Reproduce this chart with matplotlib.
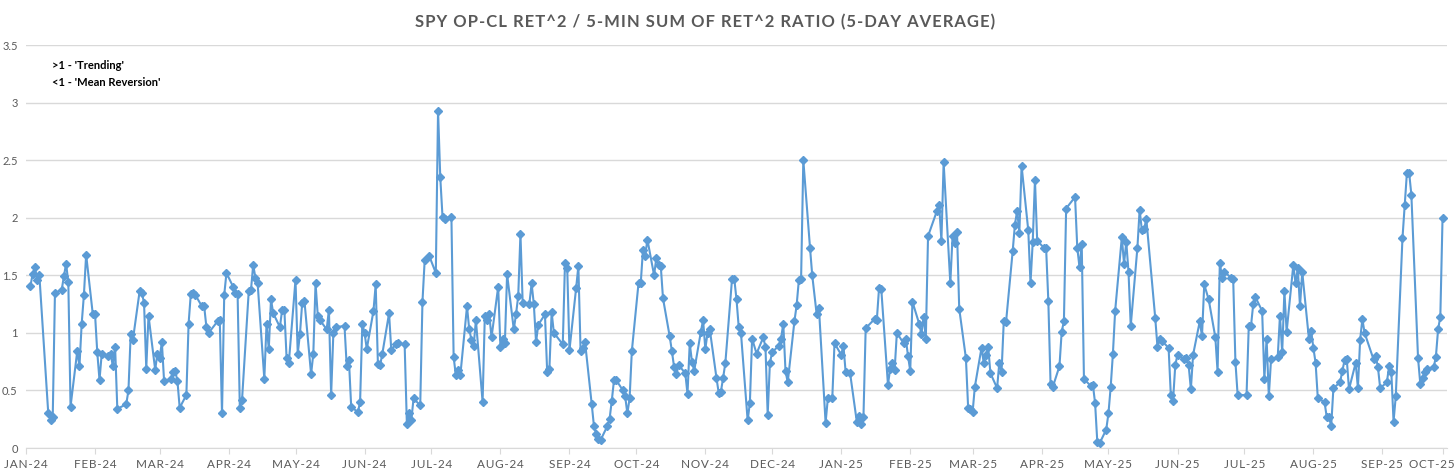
import matplotlib
matplotlib.use("Agg")
import matplotlib.pyplot as plt
import matplotlib.transforms as mtransforms
import pandas as pd

plt.rcParams["font.family"] = ["Lato", "DejaVu Sans"]

title = "SPY OP-CL RET^2 / 5-MIN SUM OF RET^2 RATIO (5-DAY AVERAGE)"
notes = [">1 - 'Trending'", "<1 - 'Mean Reversion'"]

# NYSE closures inside the plotted window
holidays = [
    "2024-01-15", "2024-02-19", "2024-03-29", "2024-05-27", "2024-06-19",
    "2024-07-04", "2024-09-02", "2024-11-28", "2024-12-25", "2025-01-01",
    "2025-01-09", "2025-01-20", "2025-02-17", "2025-04-18", "2025-05-26",
    "2025-06-19", "2025-07-04", "2025-09-01",
]
start_date = "2024-01-08"
end_date = "2025-10-03"

# ratio values, in trading-day order
ratio_jan_feb24 = [1.41, 1.51, 1.57, 1.46, 1.50, 0.30, 0.24, 0.27, 1.35, 1.37, 1.49, 1.60,
                   1.44, 0.36, 0.84, 0.71, 1.08, 1.33, 1.68, 1.16, 1.16, 0.83, 0.59, 0.82,
                   0.80, 0.82, 0.71, 0.88, 0.34, 0.38, 0.50, 0.99, 0.94, 1.36]
ratio_feb_apr24 = [1.35, 1.26, 0.69, 1.15, 0.68, 0.82, 0.78, 0.92, 0.58, 0.60, 0.66, 0.67,
                   0.58, 0.35, 0.46, 1.08, 1.34, 1.35, 1.33, 1.23, 1.23, 1.05, 1.00, 1.10,
                   1.11, 0.30, 1.33, 1.52, 1.40, 1.35, 1.34, 0.35, 0.42, 1.36, 1.37, 1.59,
                   1.48, 1.43, 0.60]
ratio_apr_jun24 = [1.08, 0.86, 1.29, 1.17, 1.05, 1.20, 1.20, 0.78, 0.74, 1.46, 0.82, 0.99,
                   1.26, 1.28, 0.64, 0.82, 1.43, 1.15, 1.11, 1.03, 1.20, 0.46, 1.00, 1.05,
                   1.06, 0.71, 0.76, 0.36, 0.31, 0.40, 1.08, 1.00, 0.86, 1.19, 1.42, 0.73,
                   0.72, 0.82]
ratio_jun_aug24 = [1.17, 0.85, 0.90, 0.91, 0.90, 0.21, 0.30, 0.24, 0.43, 0.37, 1.27, 1.63,
                   1.67, 1.52, 2.93, 2.35, 2.01, 1.99, 2.01, 0.79, 0.63, 0.68, 0.63, 1.23,
                   1.03, 0.94, 0.89, 1.11, 0.40, 1.15, 1.11, 1.16, 0.96, 1.40, 0.88]
ratio_aug_sep24 = [0.95, 0.91, 1.51, 1.03, 1.16, 1.32, 1.86, 1.26, 1.25, 1.43, 1.25, 0.92,
                   1.07, 1.16, 0.66, 0.69, 1.18, 1.00, 0.90, 1.61, 1.56, 0.85, 1.39, 1.58,
                   0.84, 0.87, 0.92, 0.38, 0.19, 0.12, 0.08, 0.07, 0.19, 0.25, 0.41, 0.59,
                   0.59, 0.50]
ratio_sep_nov24 = [0.45, 0.30, 0.43, 0.84, 1.43, 1.43, 1.72, 1.67, 1.81, 1.50, 1.65, 1.59,
                   1.58, 1.30, 0.97, 0.84, 0.70, 0.64, 0.72, 0.65, 0.47, 0.91, 0.75, 0.67,
                   1.01, 1.11, 0.86, 1.00, 1.03, 0.61, 0.48, 0.49, 0.61, 0.74, 1.47, 1.47,
                   1.29, 1.05, 1.00, 0.24]
ratio_nov24_jan25 = [0.39, 0.95, 0.82, 0.96, 0.88, 0.29, 0.74, 0.83, 0.89, 0.95, 1.08, 0.67,
                     0.57, 1.10, 1.24, 1.46, 1.47, 2.50, 1.74, 1.50, 1.16, 1.22, 0.22, 0.43,
                     0.43, 0.91, 0.81, 0.89, 0.66, 0.65, 0.23, 0.28, 0.21]
ratio_jan_mar25 = [0.27, 1.04, 1.12, 1.11, 1.39, 1.38, 0.55, 0.69, 0.74, 0.68, 1.00, 0.91,
                   0.95, 0.80, 0.67, 1.27, 1.08, 0.99, 1.14, 0.95, 1.84, 2.06, 2.11, 1.80,
                   2.48, 1.43, 1.84, 1.78, 1.88, 1.21, 0.78, 0.35, 0.34, 0.31, 0.53, 0.87]
ratio_mar_may25 = [0.74, 0.81, 0.88, 0.65, 0.52, 0.74, 0.66, 1.10, 1.09, 1.71, 1.94, 2.06,
                   1.87, 2.45, 1.89, 1.43, 1.79, 2.33, 1.80, 1.74, 1.74, 1.28, 0.56, 0.53,
                   0.71, 1.01, 1.10, 2.08, 2.18, 1.74, 1.57, 1.77, 0.60, 0.54, 0.55, 0.39,
                   0.05, 0.04]
ratio_may_jun25 = [0.16, 0.30, 0.53, 0.82, 1.19, 1.83, 1.60, 1.79, 1.53, 1.06, 1.74, 2.07,
                   1.89, 1.90, 1.99, 1.13, 0.88, 0.95, 0.93, 0.87, 0.46, 0.41, 0.72, 0.81,
                   0.77, 0.78, 0.72, 0.51, 0.81, 1.10, 0.97, 1.42, 1.29, 0.96, 0.66]
ratio_jun_aug25 = [1.61, 1.48, 1.53, 1.48, 1.47, 0.75, 0.46, 0.46, 1.06, 1.06, 1.25, 1.31,
                   1.19, 0.60, 0.95, 0.45, 0.77, 0.79, 1.15, 0.83, 1.36, 1.01, 1.59, 1.43,
                   1.56, 1.23, 1.53, 0.95, 1.02, 0.87, 0.74, 0.43, 0.40, 0.27, 0.27, 0.19,
                   0.52, 0.57]
ratio_aug_oct25 = [0.67, 0.76, 0.77, 0.51, 0.74, 0.52, 0.94, 1.12, 1.00, 0.77, 0.80, 0.70,
                   0.52, 0.57, 0.71, 0.66, 0.23, 0.45, 1.82, 2.11, 2.39, 2.39, 2.20, 0.78,
                   0.56, 0.61, 0.66, 0.69, 0.70, 0.79, 1.03, 1.14, 2.00]

y_ticks = [0, 0.5, 1, 1.5, 2, 2.5, 3, 3.5]


def spaced(s):
    # Excel-style letter spacing
    return "\u200a".join(s)


def main():
    ratio = (ratio_jan_feb24 + ratio_feb_apr24 + ratio_apr_jun24 + ratio_jun_aug24
             + ratio_aug_sep24 + ratio_sep_nov24 + ratio_nov24_jan25 + ratio_jan_mar25
             + ratio_mar_may25 + ratio_may_jun25 + ratio_jun_aug25 + ratio_aug_oct25)
    dates = pd.bdate_range(start_date, end_date, freq="C", holidays=holidays)
    n = min(len(dates), len(ratio))
    df = pd.DataFrame({"date": dates[:n], "ratio": ratio[:n]})

    grey = "#595959"
    blue = "#5b9bd5"

    fig = plt.figure(figsize=(14.56, 4.73), dpi=100)
    ax = fig.add_axes([26 / 1456, 1 - 448 / 473, 1421 / 1456, 403 / 473])

    ax.plot(df["date"], df["ratio"], color=blue, linewidth=1.5,
            marker="D", markersize=4, markerfacecolor=blue, markeredgecolor=blue,
            zorder=3)

    first = df["date"].iloc[0]
    last = df["date"].iloc[-1]
    ax.set_xlim(first - pd.Timedelta(days=1.8), last + pd.Timedelta(days=2))
    ax.set_ylim(0, 3.5)

    ax.set_yticks(y_ticks)
    ax.set_yticklabels([f"{v:g}" for v in y_ticks], color=grey, fontsize=8)
    ax.grid(axis="y", color="#d9d9d9", linewidth=1)
    ax.set_axisbelow(True)

    base = first - pd.Timedelta(days=2)
    tick_dates = [base + pd.DateOffset(months=i) for i in range(21)] + [last]
    ax.set_xticks(tick_dates)
    ax.set_xticklabels([spaced(d.strftime("%b-%y").upper()) for d in tick_dates],
                       color=grey, fontsize=8.5)
    ax.tick_params(axis="x", length=4, color="#d9d9d9", pad=4)
    ax.tick_params(axis="y", length=0, pad=6)

    # keep the last month label inside the figure, as Excel does
    last_label = ax.get_xticklabels()[-1]
    last_label.set_horizontalalignment("right")
    last_label.set_transform(last_label.get_transform()
                             + mtransforms.ScaledTranslation(12 / 100, 0, fig.dpi_scale_trans))

    for side in ["top", "right", "left"]:
        ax.spines[side].set_visible(False)
    ax.spines["bottom"].set_color("#d9d9d9")

    fig.text(705 / 1456, 1 - 22 / 473, spaced(title), ha="center", va="center",
             fontsize=12, fontweight="bold", color=grey)

    ax.text(0.018, 0.948, notes[0], transform=ax.transAxes, fontsize=8,
            fontweight="bold", color="black", va="center")
    ax.text(0.018, 0.908, notes[1], transform=ax.transAxes, fontsize=8,
            fontweight="bold", color="black", va="center")

    fig.savefig("out.png", dpi=100)


if __name__ == "__main__":
    main()
